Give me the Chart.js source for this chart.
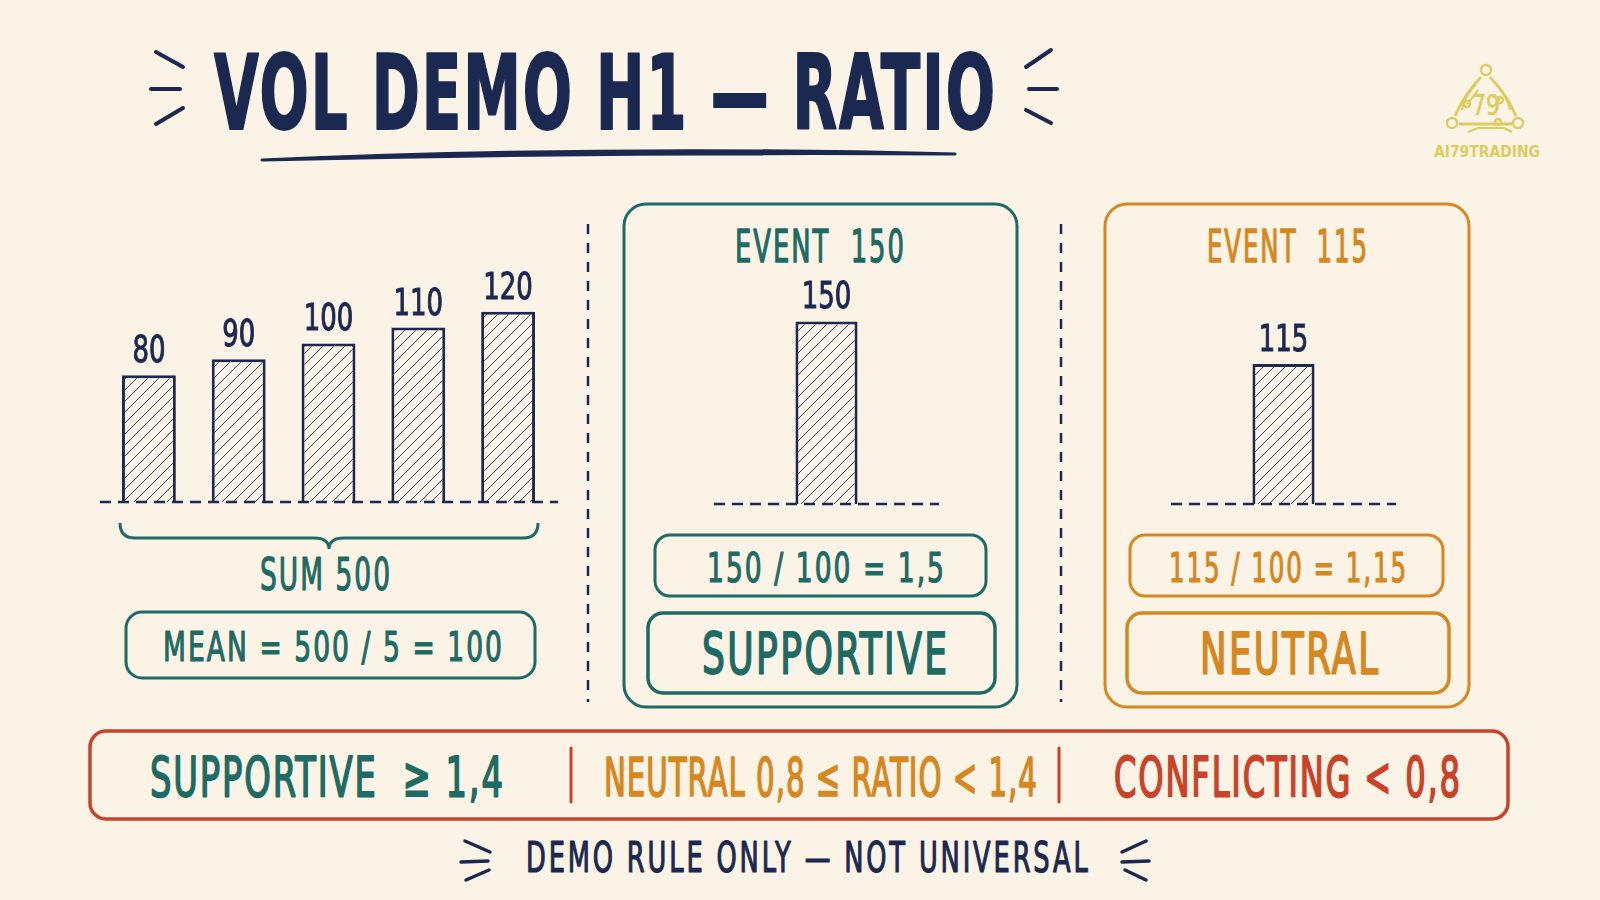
<!DOCTYPE html>
<html>
<head>
<meta charset="utf-8">
<script src="https://cdn.jsdelivr.net/npm/chart.js@4.4.1/dist/chart.umd.min.js"></script>
<style>
  html, body { margin: 0; padding: 0; }
  body { width: 1600px; height: 900px; background: #fbf3e5; position: relative; overflow: hidden; }
  #overlay { position: absolute; left: 0; top: 0; }
  #overlay text { white-space: pre; }
  .chartBox { position: absolute; }
</style>
</head>
<body>
<svg id="overlay" width="1600" height="900"></svg>
<div class="chartBox" style="left:100px;top:250px;width:458px;height:256px"><canvas id="baseChart"></canvas></div>
<div class="chartBox" style="left:714px;top:250px;width:225px;height:258px"><canvas id="eventAChart"></canvas></div>
<div class="chartBox" style="left:1171px;top:250px;width:225px;height:258px"><canvas id="eventBChart"></canvas></div>
<script>
// data
const baseLabels = ['H-5', 'H-4', 'H-3', 'H-2', 'H-1'];
const baseValues = [80, 90, 100, 110, 120];
const eventALabels = ['Event A'];
const eventAValues = [150];
const eventBLabels = ['Event B'];
const eventBValues = [115];
const baseMax = 140;
const eventMax = 184;

const NAVY = '#1b2850';
const TEAL = '#1d6b64';
const ORANGE = '#d4881f';
const RED = '#c9432a';
const GOLD = '#dccd5e';
const CREAM = '#fbf3e5';
const FONT = "'DejaVu Sans Condensed', 'Open Sans', sans-serif";

// hatch fill for the bars
const pc = document.createElement('canvas');
pc.width = 11; pc.height = 11;
const pctx = pc.getContext('2d');
pctx.fillStyle = CREAM;
pctx.fillRect(0, 0, 11, 11);
pctx.strokeStyle = '#34406a';
pctx.lineWidth = 1;
pctx.beginPath();
pctx.moveTo(-1, 12); pctx.lineTo(12, -1);
pctx.moveTo(-1, 1); pctx.lineTo(1, -1);
pctx.moveTo(10, 12); pctx.lineTo(12, 10);
pctx.stroke();
const hatch = pctx.createPattern(pc, 'repeat');

const dashBase = {
    id: 'dashBase',
    afterDatasetsDraw(chart) {
        const ctx = chart.ctx;
        const y = chart.scales.y.getPixelForValue(0);
        ctx.save();
        ctx.strokeStyle = NAVY;
        ctx.lineWidth = 2.5;
        ctx.setLineDash([11, 7]);
        ctx.beginPath();
        ctx.moveTo(0, y);
        ctx.lineTo(chart.width, y);
        ctx.stroke();
        ctx.restore();
    }
};

const valueLabels = {
    id: 'valueLabels',
    afterDatasetsDraw(chart) {
        const ctx = chart.ctx;
        const meta = chart.getDatasetMeta(0);
        const values = chart.data.datasets[0].data;
        ctx.save();
        ctx.fillStyle = NAVY;
        ctx.strokeStyle = NAVY;
        ctx.lineWidth = 1;
        ctx.font = '37px ' + FONT;
        ctx.textAlign = 'center';
        ctx.textBaseline = 'alphabetic';
        meta.data.forEach((bar, i) => {
            const t = String(values[i]);
            const w = t.length * 16.5;
            ctx.fillText(t, bar.x, bar.y - 13, w);
            ctx.strokeText(t, bar.x, bar.y - 13, w);
        });
        ctx.restore();
    }
};

function makeBars(id, labels, values, yMax, barPct, padL, padR) {
    return new Chart(document.getElementById(id), {
        type: 'bar',
        data: {
            labels: labels,
            datasets: [{
                data: values,
                backgroundColor: hatch,
                borderColor: NAVY,
                borderWidth: 3,
                borderSkipped: 'start',
                barPercentage: barPct,
                categoryPercentage: 1,
                clip: false
            }]
        },
        options: {
            responsive: true,
            maintainAspectRatio: false,
            animation: false,
            layout: { padding: { top: 30, bottom: 4, left: padL, right: padR } },
            plugins: { legend: { display: false }, tooltip: { enabled: false } },
            scales: {
                x: { display: false },
                y: { display: false, min: 0, max: yMax }
            }
        },
        plugins: [dashBase, valueLabels]
    });
}

makeBars('baseChart', baseLabels, baseValues, baseMax, 0.6, 4, 5);
makeBars('eventAChart', eventALabels, eventAValues, eventMax, 0.276, 0, 0);
makeBars('eventBChart', eventBLabels, eventBValues, eventMax, 0.276, 0, 0);

// drawing helpers for the overlay
const svg = document.getElementById('overlay');
const NS = 'http://www.w3.org/2000/svg';
function el(tag, attrs, text) {
    const n = document.createElementNS(NS, tag);
    for (const k in attrs) n.setAttribute(k, attrs[k]);
    if (text) n.textContent = text;
    svg.appendChild(n);
    return n;
}
// text squeezed into [x1, x2] with a given cap height
function txt(str, x1, x2, baseline, cap, color, weight, thick, spacing) {
    const size = cap / 0.72;
    const ls = (spacing || 0) * size;
    const t = el('text', {
        x: 0, y: 0, fill: color,
        'font-family': FONT, 'font-size': size.toFixed(1), 'font-weight': weight || 400,
        'letter-spacing': ls.toFixed(2),
        stroke: color, 'stroke-width': thick || 0, 'stroke-linejoin': 'round'
    }, str);
    const w = t.getComputedTextLength() - ls;
    const sx = (x2 - x1) / w;
    t.setAttribute('transform', 'translate(' + x1 + ',' + baseline + ') scale(' + sx.toFixed(4) + ',1)');
}
function box(x, y, w, h, r, color, sw) {
    el('rect', { x: x, y: y, width: w, height: h, rx: r, fill: 'none', stroke: color, 'stroke-width': sw || 3 });
}
function line(x1, y1, x2, y2, color, sw, dash) {
    const a = { x1: x1, y1: y1, x2: x2, y2: y2, stroke: color, 'stroke-width': sw, 'stroke-linecap': 'round' };
    if (dash) { a['stroke-dasharray'] = dash; a['stroke-linecap'] = 'butt'; }
    el('line', a);
}

// title
txt('VOL DEMO H1 \u2014 RATIO', 214, 995, 129, 75, NAVY, 700, 2, 0.03);
el('path', { d: 'M262,160 Q600,145 955,154 Q600,152 262,160 Z', fill: NAVY, stroke: NAVY, 'stroke-width': 3, 'stroke-linejoin': 'round' });
line(156, 52, 183, 67, NAVY, 4); line(151, 89, 180, 89, NAVY, 4); line(156, 124, 183, 108, NAVY, 4);
line(1051, 50, 1026, 67, NAVY, 4); line(1029, 89, 1057, 89, NAVY, 4); line(1026, 110, 1051, 123, NAVY, 4);

// logo
el('path', { d: 'M1481,77 Q1464,95 1455,116 M1490,77 Q1507,95 1516,116 M1459,124 L1512,124', fill: 'none', stroke: GOLD, 'stroke-width': 2.8 });
el('path', { d: 'M1476,84 Q1464,97 1462,110 M1496,84 Q1508,97 1510,110 M1468,132 L1478,128 L1504,128 L1512,132 M1467,104 L1473,97 L1478,90 M1500,100 L1492,96', fill: 'none', stroke: GOLD, 'stroke-width': 2.2 });
[[1486, 70, 5], [1452, 123, 5], [1518, 123, 5], [1467, 104, 3], [1500, 100, 3], [1498, 122, 3]].forEach(c => {
    el('circle', { cx: c[0], cy: c[1], r: c[2], fill: 'none', stroke: GOLD, 'stroke-width': 2.4 });
});
txt('79', 1472, 1500, 115, 20, GOLD, 400, 0.6);
txt('AI79TRADING', 1434, 1540, 157, 12, GOLD, 700);

// left panel
el('path', { d: 'M120,523 Q120,538 135,538 L314,538 Q329,538 329,549 Q329,538 344,538 L523,538 Q538,538 538,523', fill: 'none', stroke: TEAL, 'stroke-width': 3 });
txt('SUM 500', 260, 390, 590, 32, TEAL, 400, 1.2, 0.07);
box(126, 612, 409, 66, 16, TEAL, 3);
txt('MEAN = 500 / 5 = 100', 163, 502, 661, 30, TEAL, 400, 1.2, 0.07);

// separators
line(588, 224, 588, 702, NAVY, 2.5, '10 9');
line(1061, 224, 1061, 702, NAVY, 2.5, '10 9');

// middle panel
box(624, 204, 393, 503, 22, TEAL, 3);
txt('EVENT  150', 735, 904, 262, 32, TEAL, 400, 1.3, 0.07);
box(655, 535, 331, 61, 15, TEAL, 3);
txt('150 / 100 = 1,5', 707, 944, 582, 30, TEAL, 400, 1.2, 0.07);
box(648, 613, 347, 80, 15, TEAL, 3.5);
txt('SUPPORTIVE', 702, 947, 674, 41, TEAL, 400, 1.8, 0.06);

// right panel
box(1105, 204, 364, 503, 22, ORANGE, 3);
txt('EVENT  115', 1207, 1367, 262, 32, ORANGE, 400, 1.3, 0.07);
box(1130, 535, 313, 61, 15, ORANGE, 3);
txt('115 / 100 = 1,15', 1169, 1406, 582, 30, ORANGE, 400, 1.2, 0.07);
box(1127, 613, 322, 80, 15, ORANGE, 3.5);
txt('NEUTRAL', 1200, 1378, 674, 41, ORANGE, 400, 1.8, 0.06);

// legend strip
box(90, 731, 1418, 88, 16, RED, 3.5);
txt('SUPPORTIVE  \u2265 1,4', 150, 503, 796, 40, TEAL, 400, 1.8, 0.05);
line(571, 748, 571, 802, RED, 3);
txt('NEUTRAL 0,8 \u2264 RATIO < 1,4', 604, 1037, 796, 38, ORANGE, 400, 1.6, 0.03);
line(1059, 748, 1059, 802, RED, 3);
txt('CONFLICTING < 0,8', 1114, 1460, 796, 40, RED, 400, 1.8, 0.05);

// footer
txt('DEMO RULE ONLY \u2014 NOT UNIVERSAL', 526, 1088, 872, 31, NAVY, 400, 1.2, 0.1);
line(465, 841, 490, 852, NAVY, 3.5); line(461, 862, 488, 861, NAVY, 3.5); line(466, 880, 489, 870, NAVY, 3.5);
line(1146, 841, 1122, 852, NAVY, 3.5); line(1122, 862, 1149, 861, NAVY, 3.5); line(1125, 870, 1146, 880, NAVY, 3.5);
</script>
</body>
</html>
